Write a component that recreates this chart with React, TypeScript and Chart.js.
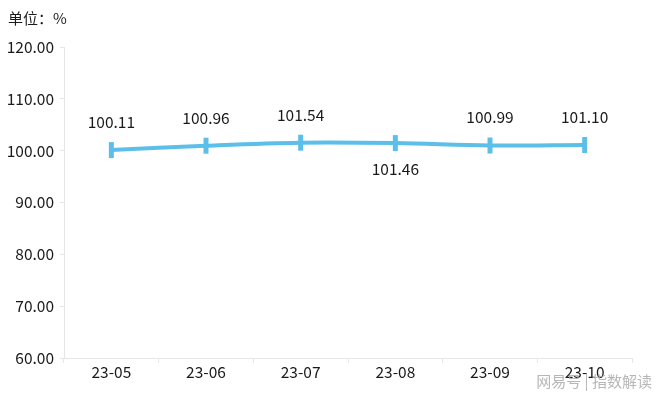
import React, { useEffect, useRef } from "react";
import { Chart, registerables } from "chart.js";

Chart.register(...registerables);

const categories = ["23-05", "23-06", "23-07", "23-08", "23-09", "23-10"];
const values = [100.11, 100.96, 101.54, 101.46, 100.99, 101.1];
const labelBelow = [false, false, false, true, false, false];
const yTicks = [60, 70, 80, 90, 100, 110, 120];

const FONT = '"Noto Sans CJK SC", "Noto Sans", sans-serif';
const LINE_COLOR = "#5bbfea";

const labelsPlugin = {
  id: "valueLabels",
  afterDatasetsDraw(chart: any) {
    const ctx = chart.ctx;
    const meta = chart.getDatasetMeta(0);
    ctx.save();
    ctx.font = `15.5px ${FONT}`;
    ctx.fillStyle = "#1a1a1a";
    ctx.textAlign = "center";
    ctx.textBaseline = "middle";
    meta.data.forEach((pt: any, i: number) => {
      const y = labelBelow[i] ? pt.y + 26 : pt.y - 28;
      ctx.fillText(values[i].toFixed(2), pt.x, y);
    });
    ctx.restore();
  },
};

const extrasPlugin = {
  id: "extras",
  afterDraw(chart: any) {
    const ctx = chart.ctx;
    ctx.save();
    ctx.font = `15px ${FONT}`;
    ctx.fillStyle = "#1a1a1a";
    ctx.textAlign = "left";
    ctx.textBaseline = "middle";
    ctx.fillText("单位：%", 8, 18);
    ctx.font = `15px ${FONT}`;
    ctx.fillStyle = "rgba(170,170,170,0.85)";
    ctx.textAlign = "right";
    ctx.fillText("网易号 | 指数解读", 652, 381);
    ctx.restore();
  },
};

export default function App() {
  const ref = useRef<HTMLCanvasElement>(null);
  useEffect(() => {
    if (!ref.current) return;
    const chart = new Chart(ref.current, {
      type: "line",
      data: {
        labels: categories,
        datasets: [
          {
            data: values,
            borderColor: LINE_COLOR,
            backgroundColor: LINE_COLOR,
            borderWidth: 4,
            tension: 0.35,
            pointStyle: "line",
            pointRotation: 90,
            pointRadius: 8,
            pointBorderWidth: 5,
            pointBorderColor: LINE_COLOR,
            pointHoverRadius: 8,
          },
        ],
      },
      options: {
        animation: false,
        responsive: false,
        maintainAspectRatio: false,
        layout: { padding: { top: 47, right: 28, left: 0, bottom: 0 } },
        plugins: {
          legend: { display: false },
          tooltip: { enabled: false },
        },
        scales: {
          x: {
            offset: true,
            border: { display: true, color: "#e6e6e6", width: 1 },
            grid: {
              offset: true,
              drawOnChartArea: false,
              drawTicks: true,
              tickLength: 5,
              color: "#e6e6e6",
            },
            ticks: {
              color: "#1a1a1a",
              font: { family: FONT, size: 15.5 },
              padding: 0,
              maxRotation: 0,
            },
            afterFit(scale: any) {
              scale.height = 38;
            },
          },
          y: {
            min: 60,
            max: 120,
            afterBuildTicks(scale: any) {
              scale.ticks = yTicks.map((v) => ({ value: v }));
            },
            border: { display: true, color: "#e6e6e6", width: 1 },
            grid: {
              drawOnChartArea: false,
              drawTicks: true,
              tickLength: 4,
              color: "#e6e6e6",
            },
            ticks: {
              color: "#1a1a1a",
              font: { family: FONT, size: 15.5 },
              padding: 6,
              callback: (v: any) => Number(v).toFixed(2),
            },
            afterFit(scale: any) {
              scale.width = 64;
            },
          },
        },
      },
      plugins: [labelsPlugin, extrasPlugin],
    });
    return () => chart.destroy();
  }, []);
  return (
    <div style={{ position: "absolute", left: 0, top: 0, width: 660, height: 396, background: "#fff" }}>
      <canvas ref={ref} width={660} height={396} style={{ width: 660, height: 396 }} />
    </div>
  );
}
